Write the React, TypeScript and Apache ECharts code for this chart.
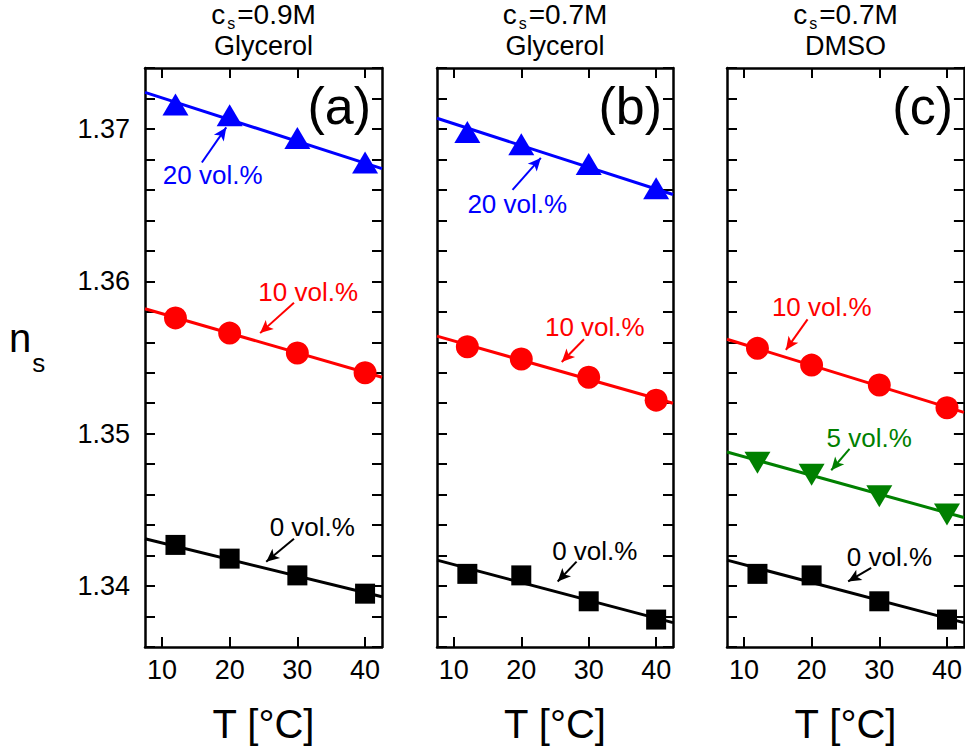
import React, { useEffect, useRef } from 'react';
import * as echarts from 'echarts';

// ---------- data ----------
const temps = [12, 20, 30, 40];
const fitT = [7.5, 42.5];
const xTicks = [10, 20, 30, 40];
const yLabels = [1.34, 1.35, 1.36, 1.37];

// panel (a) c_s = 0.9M, Glycerol
const a0 = [1.3427, 1.3418, 1.3407, 1.3395];
const a10 = [1.3576, 1.3566, 1.3553, 1.354];
const a20 = [1.3716, 1.3709, 1.3694, 1.3678];
const a0Fit = [1.3431, 1.3393];
const a10Fit = [1.3582, 1.3537];
const a20Fit = [1.3724, 1.3674];

// panel (b) c_s = 0.7M, Glycerol
const b0 = [1.3408, 1.3407, 1.339, 1.3378];
const b10 = [1.3557, 1.3549, 1.3537, 1.3522];
const b20 = [1.3698, 1.369, 1.3677, 1.3661];
const b0Fit = [1.3417, 1.3376];
const b10Fit = [1.3564, 1.352];
const b20Fit = [1.3707, 1.3657];

// panel (c) c_s = 0.7M, DMSO
const c0 = [1.3408, 1.3407, 1.339, 1.3378];
const c5 = [1.3481, 1.3473, 1.3459, 1.3447];
const c10 = [1.3556, 1.3545, 1.3532, 1.3517];
const c0Fit = [1.3417, 1.3376];
const c5Fit = [1.3488, 1.3445];
const c10Fit = [1.3562, 1.3514];

const concentrations = ['0.9M', '0.7M', '0.7M'];
const solvents = ['Glycerol', 'Glycerol', 'DMSO'];
const panelTags = ['(a)', '(b)', '(c)'];
const volLabels = { v0: '0 vol.%', v5: '5 vol.%', v10: '10 vol.%', v20: '20 vol.%' };

// ---------- layout / style ----------
const FONT = '"Liberation Sans", Arial, Helvetica, sans-serif';
const GRID_TOP = 68;
const GRID_H = 579;
const grids = [
  { left: 145, width: 237 },
  { left: 437, width: 236 },
  { left: 727, width: 237 },
];
const BLACK = '#000000';
const RED = '#ff0000';
const BLUE = '#0000ff';
const GREEN = '#008000';

type Sample = {
  vals: number[];
  fit: number[];
  color: string;
  symbol: string;
  size: number | number[];
  rotate?: number;
  label: string;
  textAt: number[];
  arrow: number[][];
};

const TRI = [26, 22];
const panels: Sample[][] = [
  [
    { vals: a0, fit: a0Fit, color: BLACK, symbol: 'rect', size: 20, label: volLabels.v0, textAt: [32.2, 1.3439], arrow: [[29.5, 1.3431], [25.4, 1.3416]] },
    { vals: a10, fit: a10Fit, color: RED, symbol: 'circle', size: 23, label: volLabels.v10, textAt: [31.6, 1.3593], arrow: [[29.5, 1.3586], [24.5, 1.3566]] },
    { vals: a20, fit: a20Fit, color: BLUE, symbol: 'triangle', size: TRI, label: volLabels.v20, textAt: [17.5, 1.367], arrow: [[15.9, 1.3678], [19.5, 1.3701]] },
  ],
  [
    { vals: b0, fit: b0Fit, color: BLACK, symbol: 'rect', size: 20, label: volLabels.v0, textAt: [30.9, 1.3423], arrow: [[28.2, 1.3416], [25.4, 1.3403]] },
    { vals: b10, fit: b10Fit, color: RED, symbol: 'circle', size: 23, label: volLabels.v10, textAt: [30.9, 1.357], arrow: [[29.3, 1.3562], [26.0, 1.3547]] },
    { vals: b20, fit: b20Fit, color: BLUE, symbol: 'triangle', size: TRI, label: volLabels.v20, textAt: [19.4, 1.3651], arrow: [[18.7, 1.366], [22.9, 1.3681]] },
  ],
  [
    { vals: c0, fit: c0Fit, color: BLACK, symbol: 'rect', size: 20, label: volLabels.v0, textAt: [31.5, 1.3419], arrow: [[28.8, 1.3412], [25.4, 1.3403]] },
    { vals: c5, fit: c5Fit, color: GREEN, symbol: 'triangle', size: TRI, rotate: 180, label: volLabels.v5, textAt: [28.5, 1.3497], arrow: [[25.6, 1.349], [22.9, 1.3476]] },
    { vals: c10, fit: c10Fit, color: RED, symbol: 'circle', size: 23, label: volLabels.v10, textAt: [21.5, 1.3583], arrow: [[19.4, 1.3575], [16.2, 1.3555]] },
  ],
];

function buildOption() {
  const gridArr: any[] = [];
  const xAxes: any[] = [];
  const yAxes: any[] = [];
  const series: any[] = [];
  const graphic: any[] = [];

  const axisLine = { show: true, onZero: false, lineStyle: { color: BLACK, width: 2.5 } };

  grids.forEach((g, i) => {
    gridArr.push({ left: g.left, width: g.width, top: GRID_TOP, height: GRID_H, containLabel: false });
    const xBase = {
      gridIndex: i,
      type: 'value',
      min: 7.5,
      max: 42.5,
      axisLine,
      splitLine: { show: false },
      axisTick: { show: true, inside: true, length: 10, lineStyle: { color: BLACK, width: 2 }, customValues: xTicks },
    };
    xAxes.push({
      ...xBase,
      position: 'bottom',
      axisLabel: { show: true, customValues: xTicks, color: BLACK, fontSize: 27, fontFamily: FONT, margin: 9 },
      name: 'T [°C]',
      nameLocation: 'middle',
      nameGap: 57,
      nameTextStyle: { color: BLACK, fontSize: 40, fontFamily: FONT },
    });
    xAxes.push({ ...xBase, position: 'top', axisLabel: { show: false } });

    const yBase = {
      gridIndex: i,
      type: 'value',
      min: 1.336,
      max: 1.374,
      interval: 0.002,
      axisLine,
      splitLine: { show: false },
      axisTick: { show: true, inside: true, length: 10, lineStyle: { color: BLACK, width: 2 } },
    };
    yAxes.push({
      ...yBase,
      position: 'left',
      axisLabel: {
        show: i === 0,
        color: BLACK,
        fontSize: 27,
        fontFamily: FONT,
        margin: 15,
        formatter: (v: number) => {
          const hit = yLabels.find((l) => Math.abs(l - v) < 1e-7);
          return hit !== undefined ? hit.toFixed(2) : '';
        },
      },
    });
    yAxes.push({ ...yBase, position: 'right', axisLabel: { show: false } });

    panels[i].forEach((s) => {
      series.push({
        type: 'line',
        xAxisIndex: 2 * i,
        yAxisIndex: 2 * i,
        data: fitT.map((t, k) => [t, s.fit[k]]),
        showSymbol: false,
        symbol: 'none',
        silent: true,
        lineStyle: { color: s.color, width: 3 },
        z: 2,
        markLine: {
          silent: true,
          symbol: ['none', 'arrow'],
          symbolSize: [9, 13],
          lineStyle: { color: s.color, width: 2, type: 'solid' },
          label: { show: false },
          emphasis: { disabled: true },
          data: [[{ coord: s.arrow[0] }, { coord: s.arrow[1] }]],
        },
        markPoint: {
          silent: true,
          symbol: 'rect',
          symbolSize: 1,
          itemStyle: { color: 'rgba(0,0,0,0)' },
          label: { show: true, position: 'inside', formatter: s.label, color: s.color, fontSize: 26, fontFamily: FONT },
          data: [{ coord: s.textAt }],
        },
      });
      series.push({
        type: 'scatter',
        xAxisIndex: 2 * i,
        yAxisIndex: 2 * i,
        data: temps.map((t, k) => [t, s.vals[k]]),
        symbol: s.symbol,
        symbolSize: s.size,
        symbolRotate: s.rotate || 0,
        itemStyle: { color: s.color, opacity: 1 },
        silent: true,
        z: 3,
      });
    });

    // panel titles
    graphic.push({
      type: 'text',
      x: g.left + g.width / 2,
      y: 0,
      silent: true,
      style: {
        text: `{c|c}{s|s}{c|=${concentrations[i]}}\n{g|${solvents[i]}}`,
        align: 'center',
        verticalAlign: 'top',
        fill: BLACK,
        rich: {
          c: { fontSize: 28, lineHeight: 32, verticalAlign: 'top', fontFamily: FONT, fill: BLACK },
          s: { fontSize: 16, lineHeight: 16, padding: [15, 2, 0, 2], verticalAlign: 'top', fontFamily: FONT, fill: BLACK },
          g: { fontSize: 27, lineHeight: 40, verticalAlign: 'top', fontFamily: FONT, fill: BLACK },
        },
      },
    });
    // panel tags
    graphic.push({
      type: 'text',
      x: g.left + g.width - 11,
      y: 106,
      silent: true,
      style: {
        text: panelTags[i],
        align: 'right',
        verticalAlign: 'middle',
        fontSize: 52,
        fontFamily: FONT,
        fill: BLACK,
      },
    });
  });

  // y-axis title n_s
  graphic.push({
    type: 'text',
    x: 9,
    y: 318,
    silent: true,
    style: {
      text: '{n|n}{s|s}',
      align: 'left',
      verticalAlign: 'top',
      fill: BLACK,
      rich: {
        n: { fontSize: 40, lineHeight: 44, verticalAlign: 'top', fontFamily: FONT, fill: BLACK },
        s: { fontSize: 26, lineHeight: 26, padding: [32, 0, 0, 1], verticalAlign: 'top', fontFamily: FONT, fill: BLACK },
      },
    },
  });

  return {
    animation: false,
    backgroundColor: '#ffffff',
    textStyle: { fontFamily: FONT },
    grid: gridArr,
    xAxis: xAxes,
    yAxis: yAxes,
    series,
    graphic,
  };
}

export default function App() {
  const ref = useRef<HTMLDivElement>(null);
  useEffect(() => {
    if (!ref.current) return;
    const chart = echarts.init(ref.current, undefined, { renderer: 'svg' });
    chart.setOption(buildOption() as any);
    return () => chart.dispose();
  }, []);
  return <div ref={ref} style={{ position: 'absolute', left: 0, top: 0, width: 965, height: 752 }} />;
}
